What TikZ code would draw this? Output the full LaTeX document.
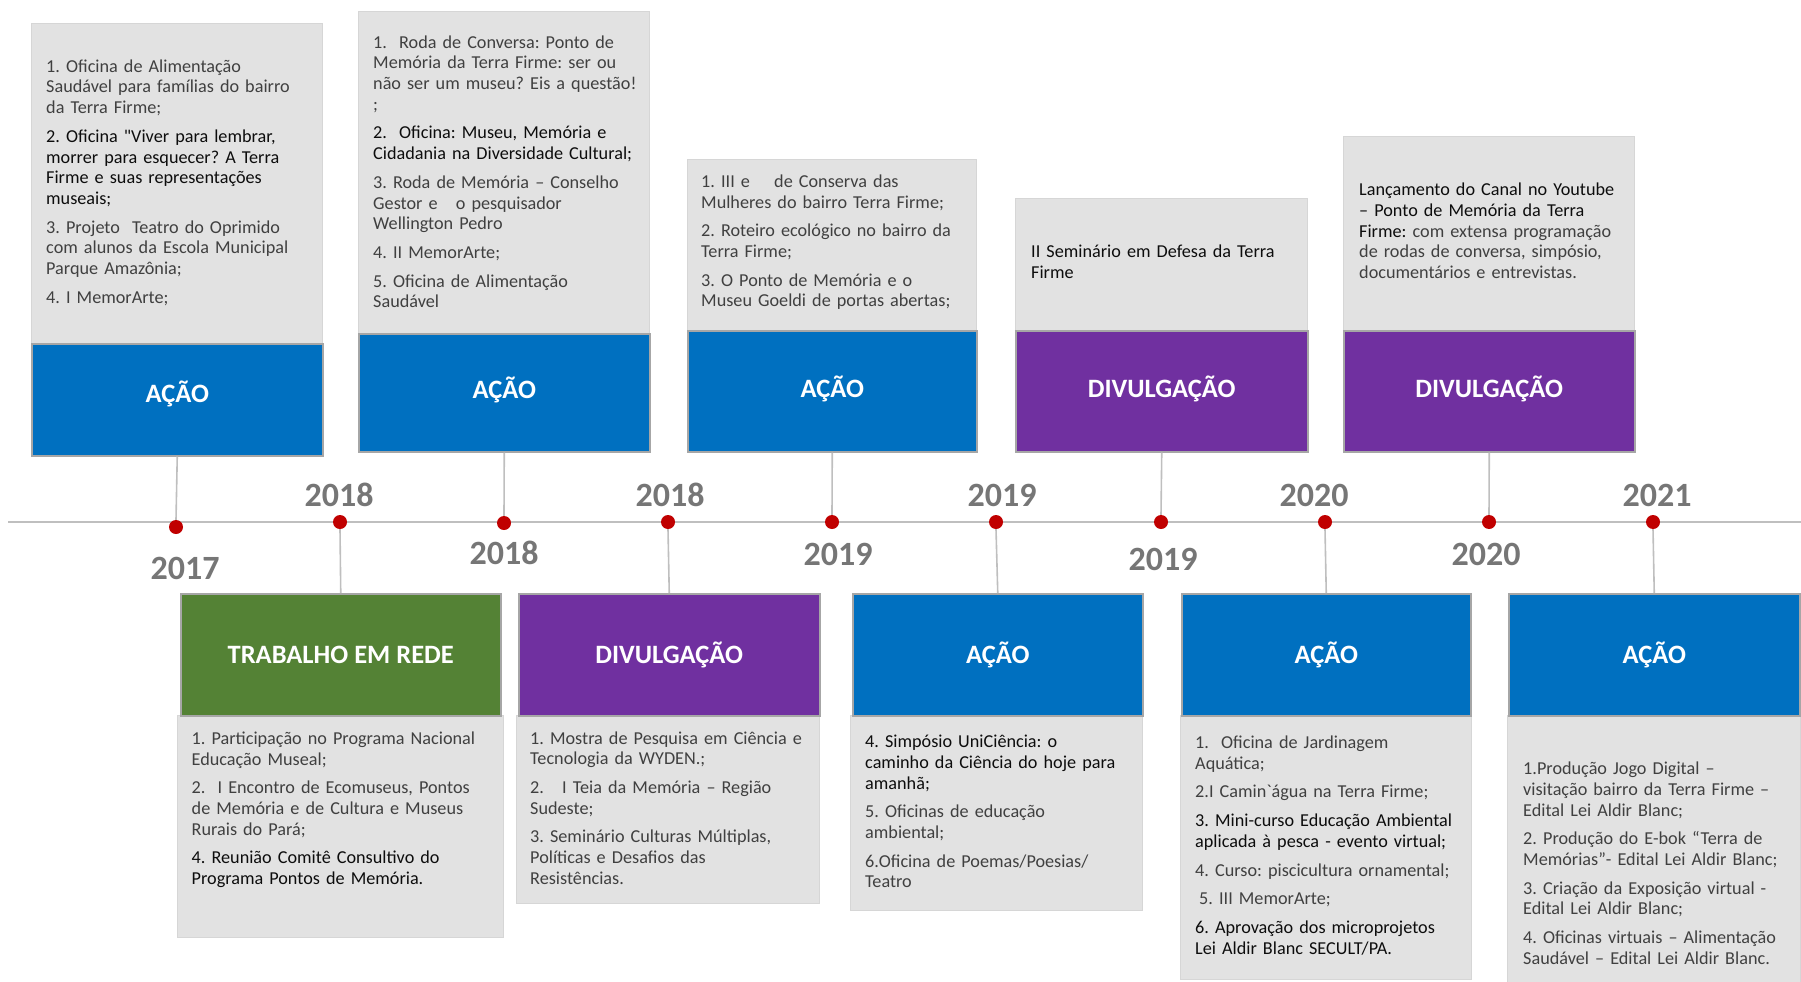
\documentclass[tikz,border=0pt]{standalone}
\usepackage{fontspec}
\setmainfont{Carlito}[Ligatures=TeXOff]
\definecolor{cblue}{HTML}{0070C0}
\definecolor{cpurple}{HTML}{7030A0}
\definecolor{cgreen}{HTML}{548235}
\definecolor{boxgray}{HTML}{E2E2E2}
\definecolor{boxedge}{HTML}{D6D6D6}
\definecolor{coledge}{HTML}{A6A6A6}
\definecolor{yeargray}{HTML}{767676}
\definecolor{dotred}{HTML}{C00000}
\definecolor{linegray}{HTML}{BFBFBF}
\definecolor{bodytext}{HTML}{404040}
\definecolor{strong}{HTML}{0D0D0D}
\newcommand{\K}{\color{strong}}
\newcommand{\G}{\color{bodytext}}
\begin{document}
\frenchspacing
\begin{tikzpicture}[x=1pt,y=-1pt,
  graybox/.style={fill=boxgray, draw=boxedge, line width=0.8, anchor=north west, inner sep=0},
  colbox/.style={draw=coledge, line width=1.5, anchor=north west, inner sep=0},
  lbl/.style={text=white, inner sep=0, font=\bfseries\fontsize{26.5}{30}\selectfont},
  txt/.style={inner sep=0, anchor=west, align=left, text width=295, text=bodytext,
    font=\fontsize{18.2}{20.7}\selectfont},
  yr/.style={text=yeargray, inner sep=0, font=\bfseries\fontsize{34}{36}\selectfont},
  tdot/.style={circle, fill=dotred, inner sep=0, minimum size=14},
  conn/.style={draw=linegray, line width=1.6},
  timeline/.style={draw=linegray, line width=2.6}]
\useasboundingbox (0,0) rectangle (1801,982);

% timeline
\coordinate (tl) at (8,522);
\coordinate (tr) at (1801,522);
\draw[timeline] (tl) -- (tr);

% ---------- top boxes ----------
\node[graybox, minimum width=291, minimum height=320] (g1) at (31,23) {};
\node[colbox, fill=cblue, minimum width=291, minimum height=112,
  label={[lbl, yshift=6pt]center:AÇÃO}] (c1) at (31,343) {};
\node[graybox, minimum width=291, minimum height=322] (g2) at (358,11) {};
\node[colbox, fill=cblue, minimum width=291, minimum height=118,
  label={[lbl, yshift=2.5pt]center:AÇÃO}] (c2) at (358,333) {};
\node[graybox, minimum width=289, minimum height=171] (g3) at (687,159) {};
\node[colbox, fill=cblue, minimum width=289, minimum height=121,
  label={[lbl, yshift=2.5pt]center:AÇÃO}] (c3) at (687,330) {};
\node[graybox, minimum width=292, minimum height=132] (g4) at (1015,198) {};
\node[colbox, fill=cpurple, minimum width=292, minimum height=121,
  label={[lbl, yshift=2.5pt]center:DIVULGAÇÃO}] (c4) at (1015,330) {};
\node[graybox, minimum width=291, minimum height=194] (g5) at (1343,136) {};
\node[colbox, fill=cpurple, minimum width=291, minimum height=121,
  label={[lbl, yshift=2.5pt]center:DIVULGAÇÃO}] (c5) at (1343,330) {};

% ---------- bottom boxes ----------
\node[graybox, minimum width=326, minimum height=222] (h1) at (177,715) {};
\node[colbox, fill=cgreen, minimum width=320, minimum height=122,
  label={[lbl]center:TRABALHO EM REDE}] (b1) at (180,593) {};
\node[graybox, minimum width=303, minimum height=188] (h2) at (516,715) {};
\node[colbox, fill=cpurple, minimum width=301, minimum height=122,
  label={[lbl]center:DIVULGAÇÃO}] (b2) at (518,593) {};
\node[graybox, minimum width=292, minimum height=195] (h3) at (850,715) {};
\node[colbox, fill=cblue, minimum width=290, minimum height=122,
  label={[lbl]center:AÇÃO}] (b3) at (852,593) {};
\node[graybox, minimum width=291, minimum height=264] (h4) at (1180,715) {};
\node[colbox, fill=cblue, minimum width=289, minimum height=122,
  label={[lbl]center:AÇÃO}] (b4) at (1181,593) {};
\node[graybox, minimum width=293, minimum height=272] (h5) at (1507,715) {};
\node[colbox, fill=cblue, minimum width=291, minimum height=122,
  label={[lbl]center:AÇÃO}] (b5) at (1508,593) {};

% ---------- dots ----------
\node[tdot] (d1) at (176,527) {};
\node[tdot] (d2) at (340,522) {};
\node[tdot] (d3) at (504,523) {};
\node[tdot] (d4) at (668,522) {};
\node[tdot] (d5) at (832,522) {};
\node[tdot] (d6) at (996,522) {};
\node[tdot] (d7) at (1161,522) {};
\node[tdot] (d8) at (1325,522) {};
\node[tdot] (d9) at (1489,522) {};
\node[tdot] (d10) at (1653,522) {};

% ---------- connectors ----------
\draw[conn] (c1.south) -- (d1.north);
\draw[conn] (d2.south) -- (b1.north);
\draw[conn] (c2.south) -- (d3.north);
\draw[conn] (d4.south) -- (b2.north);
\draw[conn] (c3.south) -- (d5.north);
\draw[conn] (d6.south) -- (b3.north);
\draw[conn] (c4.south) -- (d7.north);
\draw[conn] (d8.south) -- (b4.north);
\draw[conn] (c5.south) -- (d9.north);
\draw[conn] (d10.south) -- (b5.north);

% ---------- years ----------
\node[yr] (y1) at (185,568) {2017};
\node[yr] (y2) at (339,495) {2018};
\node[yr] (y3) at (504,553) {2018};
\node[yr] (y4) at (670,495) {2018};
\node[yr] (y5) at (838,554) {2019};
\node[yr] (y6) at (1002,495) {2019};
\node[yr] (y7) at (1163,559) {2019};
\node[yr] (y8) at (1314,495) {2020};
\node[yr] (y9) at (1486,554) {2020};
\node[yr] (y10) at (1657,495) {2021};

% ---------- texts top ----------
\node[txt] (t1) at (46,182.6) {1. Oficina de Alimentação\\
Saudável para famílias do bairro\\
da Terra Firme;\\[8pt]
\K 2. Oficina "Viver para lembrar,\\
morrer para esquecer? A Terra\\
Firme e suas representações\\
museais;\\[8pt]
\G 3. Projeto~ Teatro do Oprimido\\
com alunos da Escola Municipal\\
Parque Amazônia;\\[8pt]
4. I MemorArte;};

\node[txt] (t2) at (373,171.7) {1.~ Roda de Conversa: Ponto de\\
Memória da Terra Firme: ser ou\\
não ser um museu? Eis a questão!\\
;\\[8pt]
\K 2.~ Oficina: Museu, Memória e\\
Cidadania na Diversidade Cultural;\\[8pt]
\G 3. Roda de Memória – Conselho\\
Gestor e~~ o pesquisador\\
Wellington Pedro\\[8pt]
4. II MemorArte;\\[8pt]
5. Oficina de Alimentação\\
Saudável};

\node[txt] (t3) at (701,242.3) {1. III e~~~ de Conserva das\\
Mulheres do bairro Terra Firme;\\[8pt]
2. Roteiro ecológico no bairro da\\
Terra Firme;\\[8pt]
3. O Ponto de Memória e o\\
Museu Goeldi de portas abertas;};

\node[txt] (t4) at (1031,261.9) {\K II Seminário em Defesa da Terra\\
Firme};

\node[txt] (t5) at (1359,230.9) {\K Lançamento do Canal no Youtube\\
– Ponto de Memória da Terra\\
Firme: \G com extensa programação\\
de rodas de conversa, simpósio,\\
documentários e entrevistas.};

% ---------- texts bottom ----------
\node[txt] (u1) at (191.5,809.8) {1. Participação no Programa Nacional\\
Educação Museal;\\[8pt]
2.~ I Encontro de Ecomuseus, Pontos\\
de Memória e de Cultura e Museus\\
Rurais do Pará;\\[8pt]
\K 4. Reunião Comitê Consultivo do\\
Programa Pontos de Memória.};

\node[txt] (u2) at (530,808) {1. Mostra de Pesquisa em Ciência e\\
Tecnologia da WYDEN.;\\[8pt]
2.~~ I Teia da Memória – Região\\
Sudeste;\\[8pt]
3. Seminário Culturas Múltiplas,\\
Políticas e Desafios das\\
Resistências.};

\node[txt] (u3) at (865,811.5) {\K 4. Simpósio UniCiência: o\\
caminho da Ciência do hoje para\\
amanhã;\\[8pt]
\G 5. Oficinas de educação\\
ambiental;\\[8pt]
6.Oficina de Poemas/Poesias/\\
Teatro};

\node[txt] (u4) at (1195,845.4) {1.~ Oficina de Jardinagem\\
Aquática;\\[8pt]
2.I Camin`água na Terra Firme;\\[8pt]
\K 3. Mini-curso Educação Ambiental\\
aplicada à pesca - evento virtual;\\[8pt]
\G 4. Curso: piscicultura ornamental;\\[8pt]
\hspace*{4pt}5. III MemorArte;\\[8pt]
\K 6. Aprovação dos microprojetos\\
Lei Aldir Blanc SECULT/PA.};

\node[txt] (u5) at (1523,863.2) {1.Produção Jogo Digital –\\
visitação bairro da Terra Firme –\\
Edital Lei Aldir Blanc;\\[8pt]
2. Produção do E-bok “Terra de\\
Memórias”- Edital Lei Aldir Blanc;\\[8pt]
3. Criação da Exposição virtual -\\
Edital Lei Aldir Blanc;\\[8pt]
4. Oficinas virtuais – Alimentação\\
Saudável – Edital Lei Aldir Blanc.};
\end{tikzpicture}
\end{document}
